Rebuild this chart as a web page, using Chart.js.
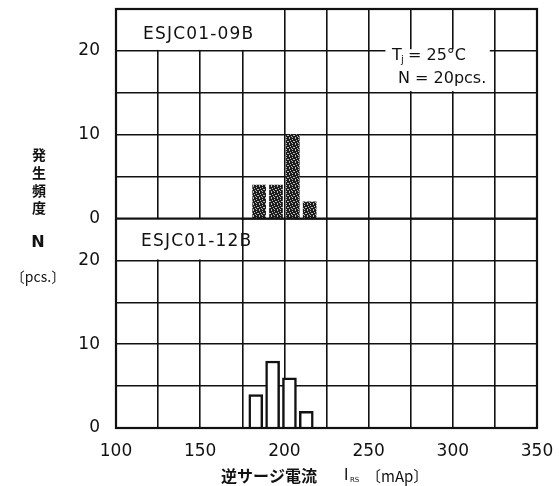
<!DOCTYPE html>
<html>
<head>
<meta charset="utf-8">
<script src="https://cdn.jsdelivr.net/npm/chart.js@4.4.1/dist/chart.umd.min.js"></script>
<style>
html, body { margin: 0; padding: 0; background: #fff; }
canvas { display: block; }
</style>
</head>
<body>
<canvas id="chart" width="559" height="486"></canvas>
<script>
// 逆サージ電流の分布 (発生頻度ヒストグラム)
const xTicks = [100, 150, 200, 250, 300, 350];
const yTicks = [0, 10, 20];
const models = ['ESJC01-09B', 'ESJC01-12B'];
const binsTop = [185, 195, 205, 215];
const countsTop = [4, 4, 10, 2];
const binsBottom = [183, 193, 203, 213];
const countsBottom = [4, 8, 6, 2];
const yTitle = ['発', '生', '頻', '度'];

const INK = '#111';
const numFont = { family: 'DejaVu Sans', size: 17 };
const cjk = '"Noto Sans CJK JP", "DejaVu Sans", sans-serif';

// 網掛けの棒 (上段)
function speckle() {
    const c = document.createElement('canvas');
    c.width = 6; c.height = 6;
    const g = c.getContext('2d');
    g.fillStyle = '#1c1c1c';
    g.fillRect(0, 0, 6, 6);
    g.fillStyle = '#bdbdbd';
    [[1,0],[4,1],[2,2],[0,3],[5,3],[3,4],[1,5],[4,5]].forEach(p => g.fillRect(p[0], p[1], 1, 1));
    return g.createPattern(c, 'repeat');
}

function yAxis() {
    return {
        type: 'linear',
        position: 'left',
        stack: 'panels',
        stackWeight: 1,
        min: 0,
        max: 25,
        afterFit: s => { s.width = 116; s.paddingTop = 0; s.paddingBottom = 0; },
        ticks: {
            stepSize: 5,
            padding: 16,
            color: INK,
            font: numFont,
            callback: v => yTicks.includes(v) ? v : ''
        },
        grid: { color: INK, lineWidth: 1.6, drawTicks: false },
        border: { display: false }
    };
}

const labels = {
    id: 'labels',
    afterDatasetsDraw(chart) {
        const ctx = chart.ctx;
        const x = chart.scales.x, yT = chart.scales.yTop, yB = chart.scales.yBottom;
        ctx.save();
        ctx.fillStyle = '#fff';
        // 型名ラベルの白抜き
        ctx.fillRect(x.left + 1, yT.getPixelForValue(25) + 1, x.getPixelForValue(200) - x.left - 2, yT.getPixelForValue(20) - yT.getPixelForValue(25) - 2);
        ctx.fillRect(x.left + 1, yB.getPixelForValue(25) + 1, x.getPixelForValue(175) - x.left - 2, yB.getPixelForValue(20) - yB.getPixelForValue(25) - 2);
        // 条件の白抜き
        ctx.fillRect(x.getPixelForValue(260), yT.getPixelForValue(20.2), x.getPixelForValue(322) - x.getPixelForValue(260), yT.getPixelForValue(15.2) - yT.getPixelForValue(20.2));

        ctx.fillStyle = INK;
        ctx.textBaseline = 'middle';
        ctx.textAlign = 'left';
        ctx.font = '17px "DejaVu Sans"';
        ctx.letterSpacing = '1.2px';
        ctx.fillText(models[0], 143, yT.getPixelForValue(22.0));
        ctx.fillText(models[1], 141, yB.getPixelForValue(22.2));
        ctx.letterSpacing = '0px';

        // Tj = 25°C / N = 20pcs.
        ctx.font = '16px "DejaVu Sans"';
        let y1 = yT.getPixelForValue(19.4);
        ctx.fillText('T', 392, y1);
        ctx.font = '10px "DejaVu Sans"';
        ctx.fillText('j', 401, y1 + 4);
        ctx.font = '16px "DejaVu Sans"';
        ctx.fillText('= 25°C', 408, y1);
        ctx.fillText('N = 20pcs.', 398, yT.getPixelForValue(16.7));

        // 外枠
        const a = chart.chartArea;
        ctx.strokeStyle = INK;
        ctx.lineWidth = 2.2;
        ctx.strokeRect(a.left, a.top, a.right - a.left, a.bottom - a.top);
        ctx.beginPath();
        ctx.moveTo(a.left, yT.bottom);
        ctx.lineTo(a.right, yT.bottom);
        ctx.stroke();

        // 縦軸タイトル
        ctx.textAlign = 'center';
        ctx.font = 'bold 14px ' + cjk;
        yTitle.forEach((ch, i) => ctx.fillText(ch, 39, 155 + i * 17.7));
        ctx.font = 'bold 16px "DejaVu Sans"';
        ctx.fillText('N', 38, 243);
        ctx.font = '14px ' + cjk;
        ctx.fillText('〔pcs.〕', 38, 277);

        // 横軸タイトル
        ctx.textAlign = 'left';
        ctx.font = 'bold 16px ' + cjk;
        ctx.fillText('逆サージ電流', 221, 476);
        ctx.font = '15px "DejaVu Sans"';
        ctx.fillText('I', 344, 476);
        ctx.font = '7px "DejaVu Sans"';
        ctx.fillText('RS', 350, 480);
        ctx.font = '15px ' + cjk;
        ctx.fillText('〔mAp〕', 366, 476);
        ctx.restore();
    }
};

new Chart(document.getElementById('chart'), {
    type: 'bar',
    data: {
        datasets: [
            {
                label: models[0],
                yAxisID: 'yTop',
                data: binsTop.map((b, i) => ({ x: b, y: countsTop[i] })),
                backgroundColor: speckle(),
                borderWidth: 0,
                barThickness: 13,
                grouped: false
            },
            {
                label: models[1],
                yAxisID: 'yBottom',
                data: binsBottom.map((b, i) => ({ x: b, y: countsBottom[i] })),
                backgroundColor: '#fff',
                borderColor: INK,
                borderWidth: 2.5,
                barThickness: 14,
                grouped: false
            }
        ]
    },
    options: {
        responsive: false,
        animation: false,
        devicePixelRatio: 1,
        layout: { padding: { left: 0, right: 22, top: 9, bottom: 0 } },
        plugins: { legend: { display: false }, tooltip: { enabled: false } },
        scales: {
            x: {
                type: 'linear',
                min: 100,
                max: 350,
                offset: false,
                afterFit: s => { s.height = 58; s.paddingLeft = 0; s.paddingRight = 0; },
                ticks: {
                    stepSize: 25,
                    autoSkip: false,
                    maxRotation: 0,
                    padding: 13,
                    color: INK,
                    font: numFont,
                    callback: v => xTicks.includes(v) ? v : ''
                },
                grid: { color: INK, lineWidth: 1.6, drawTicks: false, offset: false },
                border: { display: false }
            },
            // 先に定義した軸が下段になる
            yBottom: yAxis(),
            yTop: yAxis()
        }
    },
    plugins: [labels]
});
</script>
</body>
</html>
